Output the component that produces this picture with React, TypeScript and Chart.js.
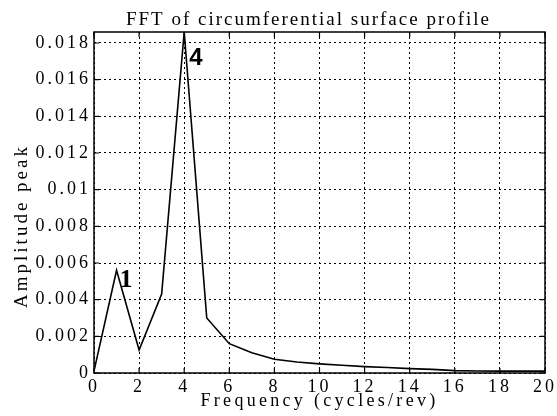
import React, { useEffect, useRef } from "react";
import { Chart, registerables } from "chart.js";

Chart.register(...registerables);

const TITLE = "FFT of circumferential surface profile";
const X_TITLE = "Frequency (cycles/rev)";
const Y_TITLE = "Amplitude peak";

const frequency = [0, 1, 2, 3, 4, 5, 6, 7, 8, 9, 10, 11, 12, 13, 14, 15, 16, 17, 18, 19, 20];
const amplitude = [
  0.0001, 0.0056, 0.00125, 0.0043, 0.0186, 0.003, 0.0016, 0.0011, 0.00075, 0.0006, 0.0005,
  0.00042, 0.00035, 0.0003, 0.00024, 0.0002, 0.00013, 0.00011, 0.0001, 0.0001, 0.0001,
];
const peakLabelX = [1, 4];
const peakLabelY = [0.0056, 0.0186];
const peakLabelText = ["1", "4"];

const X_MIN = 0;
const X_MAX = 20;
const X_STEP = 2;
const Y_MIN = 0;
const Y_MAX = 0.0186;
const Y_STEP = 0.002;

const SERIF = '"Liberation Serif", "Times New Roman", serif';
const SANS = '"Liberation Sans", Arial, sans-serif';

const decorPlugin = {
  id: "decor",
  beforeDraw(chart: any) {
    chart.ctx.letterSpacing = "3px";
  },
  afterDraw(chart: any) {
    const { ctx, chartArea: a, scales } = chart;
    const xs = scales.x;
    const ys = scales.y;
    ctx.save();
    ctx.letterSpacing = "0px";
    ctx.setLineDash([]);
    ctx.strokeStyle = "#000";
    ctx.lineWidth = 1.5;
    ctx.strokeRect(a.left, a.top, a.right - a.left, a.bottom - a.top);
    // inner tick marks on all four sides
    ctx.lineWidth = 1.2;
    ctx.beginPath();
    for (const t of xs.ticks) {
      const px = xs.getPixelForValue(t.value);
      ctx.moveTo(px, a.bottom);
      ctx.lineTo(px, a.bottom - 5);
      ctx.moveTo(px, a.top);
      ctx.lineTo(px, a.top + 5);
    }
    for (const t of ys.ticks) {
      const py = ys.getPixelForValue(t.value);
      ctx.moveTo(a.left, py);
      ctx.lineTo(a.left + 5, py);
      ctx.moveTo(a.right, py);
      ctx.lineTo(a.right - 5, py);
    }
    ctx.stroke();

    ctx.fillStyle = "#000";
    const cx = (a.left + a.right) / 2;
    // chart title
    ctx.font = `19px ${SERIF}`;
    ctx.letterSpacing = "2px";
    ctx.textAlign = "center";
    ctx.textBaseline = "alphabetic";
    ctx.fillText(TITLE, cx - 11, 25);
    // x title
    ctx.font = `18px ${SERIF}`;
    ctx.letterSpacing = "3.3px";
    ctx.fillText(X_TITLE, cx, 406);
    // y title
    ctx.save();
    ctx.translate(27, 226);
    ctx.rotate(-Math.PI / 2);
    ctx.font = `19px ${SERIF}`;
    ctx.letterSpacing = "3px";
    ctx.fillText(Y_TITLE, 0, 0);
    ctx.restore();

    // peak annotations
    ctx.letterSpacing = "0px";
    ctx.textAlign = "left";
    for (let i = 0; i < peakLabelText.length; i++) {
      const px = xs.getPixelForValue(peakLabelX[i]);
      const py = ys.getPixelForValue(peakLabelY[i]);
      if (peakLabelText[i] === "4") {
        ctx.font = `bold 24px ${SANS}`;
        ctx.fillText(peakLabelText[i], px + 5, py + 33);
      } else {
        ctx.font = `bold 26px ${SERIF}`;
        ctx.fillText(peakLabelText[i], px + 3, py + 17);
      }
    }
    ctx.restore();
  },
};

export default function App() {
  const ref = useRef<HTMLCanvasElement | null>(null);
  useEffect(() => {
    if (!ref.current) return;
    const chart = new Chart(ref.current, {
      type: "line",
      data: {
        datasets: [
          {
            data: frequency.map((f, i) => ({ x: f, y: amplitude[i] })),
            borderColor: "#000",
            borderWidth: 1.6,
            pointRadius: 0,
            tension: 0,
            fill: false,
          },
        ],
      },
      options: {
        animation: false,
        responsive: false,
        layout: { padding: { top: 32, right: 11, left: 0, bottom: 0 } },
        plugins: {
          legend: { display: false },
          title: { display: false },
          tooltip: { enabled: false },
        },
        scales: {
          x: {
            type: "linear",
            min: X_MIN,
            max: X_MAX,
            afterFit: (s: any) => {
              s.height = 43;
            },
            ticks: {
              stepSize: X_STEP,
              color: "#000",
              font: { family: SERIF, size: 18 },
              padding: 3,
              maxRotation: 0,
              autoSkip: false,
            },
            grid: { color: "#000", lineWidth: 1, drawTicks: false },
            border: { display: false, dash: [2, 3] },
          },
          y: {
            type: "linear",
            min: Y_MIN,
            max: Y_MAX,
            afterFit: (s: any) => {
              s.width = 94;
            },
            ticks: {
              stepSize: Y_STEP,
              includeBounds: false,
              color: "#000",
              font: { family: SERIF, size: 18 },
              padding: 3,
              callback: (v: any) => String(+Number(v).toFixed(4)),
            },
            grid: { color: "#000", lineWidth: 1, drawTicks: false },
            border: { display: false, dash: [2, 3] },
          },
        },
      },
      plugins: [decorPlugin],
    });
    return () => chart.destroy();
  }, []);
  return (
    <div style={{ position: "fixed", left: 0, top: 0, width: 557, height: 416, background: "#fff" }}>
      <canvas ref={ref} width={557} height={416} style={{ display: "block" }} />
    </div>
  );
}
